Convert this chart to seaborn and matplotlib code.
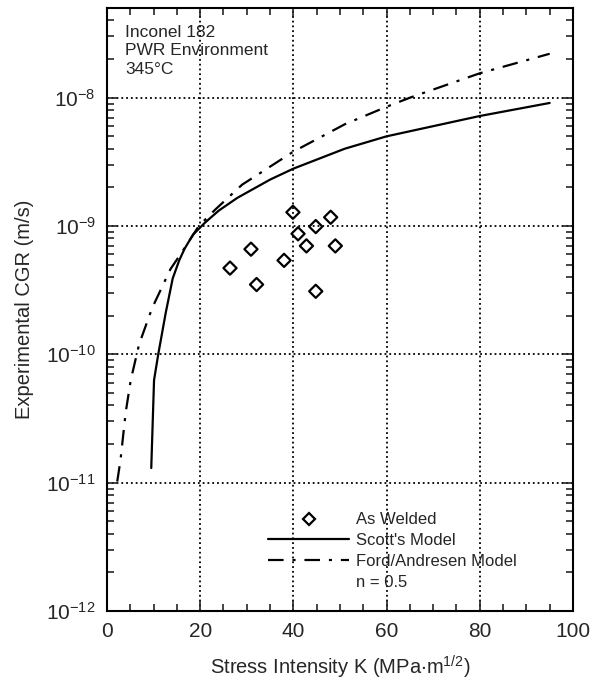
import pandas as pd
import seaborn as sns
import matplotlib.pyplot as plt
from matplotlib.lines import Line2D
from matplotlib.ticker import MultipleLocator, LogLocator, NullFormatter

# data
weld_k = [39.9, 48.0, 44.8, 41.0, 30.9, 42.8, 49.0, 38.0, 26.4, 32.1, 44.8]
weld_cgr = [1.28e-9, 1.17e-9, 9.9e-10, 8.7e-10, 6.6e-10, 7.0e-10, 7.0e-10,
            5.4e-10, 4.7e-10, 3.5e-10, 3.1e-10]

scott_k = [9.5, 10.1, 11.0, 12.6, 14.1, 15.5, 16.7, 18.5, 21.0, 24.0, 28.0,
           35.0, 40.0, 51.0, 60.0, 70.0, 80.0, 95.0]
scott_cgr = [1.3e-11, 6.3e-11, 1.0e-10, 2.1e-10, 3.9e-10, 5.4e-10, 6.7e-10,
             8.6e-10, 1.06e-9, 1.32e-9, 1.66e-9, 2.3e-9, 2.8e-9, 4.0e-9,
             5.0e-9, 6.0e-9, 7.2e-9, 9.1e-9]

ford_k = [2.2, 2.9, 4.0, 5.1, 6.9, 9.7, 13.6, 16.5, 19.7, 23.3, 29.0, 40.0,
          51.0, 60.0, 65.0, 80.0, 95.0]
ford_cgr = [1.02e-11, 1.5e-11, 3.5e-11, 6.3e-11, 1.2e-10, 2.3e-10, 4.6e-10,
            6.6e-10, 1.0e-9, 1.35e-9, 2.1e-9, 3.8e-9, 6.2e-9, 8.5e-9, 1.0e-8,
            1.55e-8, 2.2e-8]

x_ticks = [0, 20, 40, 60, 80, 100]
y_ticks = [1e-12, 1e-11, 1e-10, 1e-9, 1e-8]
note_lines = ['Inconel 182', 'PWR Environment', '345°C']

sns.set_style('ticks')
plt.rcParams['font.family'] = ['Liberation Sans', 'DejaVu Sans']
plt.rcParams['mathtext.fontset'] = 'custom'
plt.rcParams['mathtext.rm'] = 'Liberation Sans'
plt.rcParams['mathtext.it'] = 'Liberation Sans:italic'
plt.rcParams['mathtext.bf'] = 'Liberation Sans:bold'
plt.rcParams['mathtext.default'] = 'regular'

fig, ax = plt.subplots(figsize=(5.95, 6.9), dpi=100)
fig.subplots_adjust(left=0.1798, right=0.963, top=0.9884, bottom=0.1145)

welds = pd.DataFrame({'K': weld_k, 'CGR': weld_cgr})
scott = pd.DataFrame({'K': scott_k, 'CGR': scott_cgr})
ford = pd.DataFrame({'K': ford_k, 'CGR': ford_cgr})

dashdot = (0, (7, 4, 1.4, 4))
sns.lineplot(data=scott, x='K', y='CGR', ax=ax, color='black', lw=1.6,
             estimator=None)
sns.lineplot(data=ford, x='K', y='CGR', ax=ax, color='black', lw=1.6,
             linestyle=dashdot, estimator=None)
sns.scatterplot(data=welds, x='K', y='CGR', ax=ax, marker='D', s=45,
                facecolor='none', edgecolor='black', linewidth=1.6, zorder=3)

ax.set_yscale('log')
ax.set_xlim(0, 100)
ax.set_ylim(1e-12, 5e-8)
ax.set_xticks(x_ticks)
ax.set_yticks(y_ticks)
ax.xaxis.set_minor_locator(MultipleLocator(5))
ax.yaxis.set_minor_locator(LogLocator(base=10, subs=range(2, 10), numticks=20))
ax.yaxis.set_minor_formatter(NullFormatter())

ax.grid(True, which='major', color='black', linestyle=':', linewidth=1.3)
ax.tick_params(which='both', direction='in', top=True, right=True,
               width=1.2, labelsize=15, pad=8)
ax.tick_params(which='major', length=7)
ax.tick_params(which='minor', length=5)
for s in ax.spines.values():
    s.set_linewidth(1.5)
    s.set_color('black')

ax.set_xlabel('Stress Intensity K (MPa$\\cdot$m$^{1/2}$)', fontsize=14.5,
              labelpad=9)
ax.set_ylabel('Experimental CGR (m/s)', fontsize=14.5, labelpad=9)

ax.text(0.039, 0.972, '\n'.join(note_lines), transform=ax.transAxes,
        fontsize=12.5, va='top', ha='left', linespacing=1.3)

handles = [
    Line2D([], [], marker='D', ms=6.5, mfc='none', mec='black', mew=1.6,
           ls='none'),
    Line2D([], [], color='black', lw=1.6),
    Line2D([], [], color='black', lw=1.6, linestyle=dashdot),
    Line2D([], [], color='none'),
]
labels = ["As Welded", "Scott's Model", "Ford/Andresen Model", "n = 0.5"]
ax.legend(handles, labels, loc='lower left', bbox_to_anchor=(0.345, 0.035),
          frameon=False, fontsize=12, handlelength=4.9, handletextpad=0.4,
          labelspacing=0.35, borderpad=0, borderaxespad=0)

plt.savefig('out.png', dpi=100)
